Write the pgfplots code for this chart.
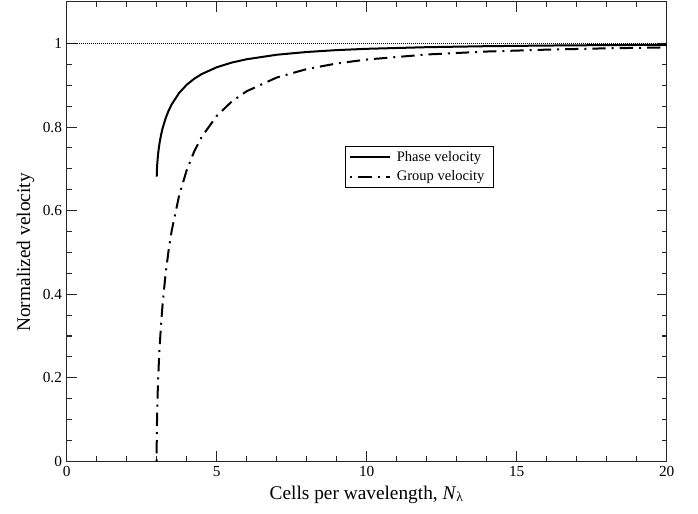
\documentclass[border=0pt]{standalone}
\usepackage{fontspec}
\setmainfont{Liberation Serif}
\usepackage{pgfplots}
\pgfplotsset{compat=1.18}
\begin{document}
\begin{tikzpicture}
\begin{axis}[
  scale only axis, width=450pt, height=344.7pt,
  xmin=0, xmax=20, ymin=0, ymax=1.1,
  xtick={0,5,10,15,20}, ytick={0,0.2,0.4,0.6,0.8,1},
  minor x tick num=4, minor y tick num=3,
  tick align=inside,
  xtick pos=both, ytick pos=both,
  xticklabel pos=lower, yticklabel pos=left,
  major tick length=7.5pt, minor tick length=3.75pt,
  axis line style={black!85, line width=0.8pt},
  every tick/.style={black!85, line width=0.8pt},
  /pgf/number format/assume math mode=true,
  ticklabel style={font=\fontsize{11.5}{13}\selectfont},
  xlabel={Cells per wavelength, \textit{N}\textsubscript{λ}},
  xlabel style={font=\fontsize{14.5}{17}\selectfont, at={(axis description cs:0.5,0)}, anchor=base, yshift=-28.3pt},
  ylabel={Normalized velocity},
  ylabel style={font=\fontsize{14.5}{17}\selectfont, at={(axis description cs:-0.0611,0.4545)}, anchor=base},
  legend image code/.code={\draw[#1] (0pt,0pt) -- (30pt,0pt);},
  legend cell align=left,
  legend style={at={(axis cs:9.28,0.754)}, anchor=north west, draw=black, line width=0.6pt,
    font=\fontsize{10.9}{12}\selectfont, inner xsep=3pt, inner ysep=1.7pt, row sep=2.4pt,
    nodes={inner xsep=4pt, inner ysep=1.6pt}},
]
\coordinate (sw) at (rel axis cs:0,0);
\coordinate (ne) at (rel axis cs:1,1);
\addplot[black, line width=0.5pt, dash pattern=on 0.6pt off 0.9pt, forget plot] coordinates {(0,1) (20,1)};
\addplot[black, line width=1.5pt] coordinates {
(3.002,0.6813) (3.005,0.6897) (3.01,0.6990) (3.02,0.7120) (3.035,0.7259) (3.05,0.7368)
(3.075,0.7514) (3.1,0.7633) (3.15,0.7824) (3.2,0.7976) (3.3,0.8213) (3.4,0.8396)
(3.5,0.8543) (3.75,0.8818) (4,0.9011) (4.25,0.9156) (4.5,0.9268) (5,0.9431)
(5.5,0.9543) (6,0.9623) (7,0.9731) (8,0.9797) (9,0.9842) (10,0.9873)
(12,0.9912) (14,0.9936) (16,0.9951) (18,0.9962) (20,0.9969)};
\addlegendentry{Phase velocity}
\addplot[black, line width=1.5pt, dash pattern=on 1.5pt off 4.5pt on 10pt off 4.5pt] coordinates {
(3,0) (3.001,0.0284) (3.002,0.0401) (3.005,0.0634) (3.01,0.0895) (3.02,0.1262)
(3.035,0.1661) (3.05,0.1977) (3.075,0.2402) (3.1,0.2753) (3.15,0.3322) (3.2,0.3780)
(3.3,0.4502) (3.4,0.5061) (3.5,0.5516) (3.75,0.6366) (4,0.6966) (4.25,0.7415)
(4.5,0.7763) (5,0.8266) (5.5,0.8610) (6,0.8858) (7,0.9185) (8,0.9388)
(9,0.9522) (10,0.9616) (12,0.9737) (14,0.9808) (16,0.9853) (18,0.9885) (20,0.9907)};
\addlegendentry{Group velocity}
\end{axis}
\pgfresetboundingbox
\path ([shift={(-50pt,-38.8pt)}]sw) rectangle ([shift={(23.5pt,1.3pt)}]ne);
\end{tikzpicture}
\end{document}
